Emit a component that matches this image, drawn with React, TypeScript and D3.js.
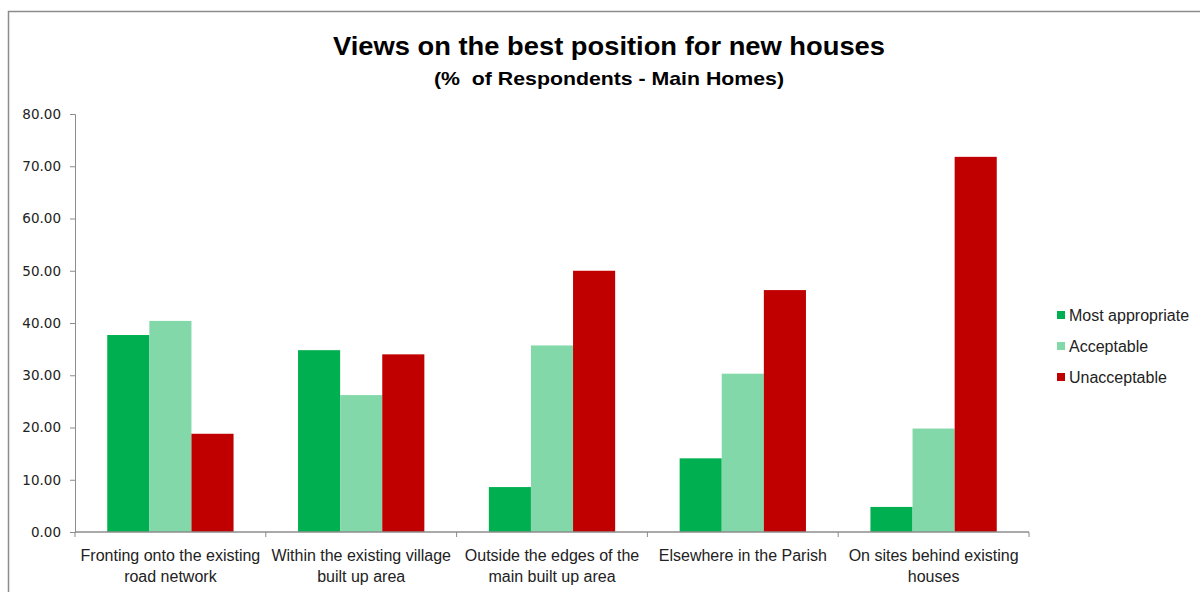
import React, { useEffect, useRef } from 'react'
import * as d3 from 'd3'

const categories = [
  ['Fronting onto the existing', 'road network'],
  ['Within the existing village', 'built up area'],
  ['Outside the edges of the', 'main built up area'],
  ['Elsewhere in the Parish'],
  ['On sites behind existing', 'houses'],
]
const seriesNames = ['Most appropriate', 'Acceptable', 'Unacceptable']
const mostAppropriate = [37.7, 34.8, 8.6, 14.1, 4.8]
const acceptable = [40.4, 26.2, 35.7, 30.3, 19.8]
const unacceptable = [18.8, 34.0, 50.0, 46.3, 71.8]
const yTicks = [0, 10, 20, 30, 40, 50, 60, 70, 80]

const COLORS = ['#00b050', '#82d8a8', '#c00000']
const AXIS_COLOR = '#8c8c8c'
const TEXT_COLOR = '#222'

const W = 1200
const H = 592

export default function App() {
  const svgRef = useRef<SVGSVGElement>(null)

  useEffect(() => {
    if (!svgRef.current) return
    const svg = d3.select(svgRef.current)
    svg.selectAll('*').remove()

    const values = [mostAppropriate, acceptable, unacceptable]
    const margin = { top: 114, left: 75, right: 171, bottom: 60 }
    const catKeys = categories.map(c => c.join(' '))

    const x = d3.scaleBand().domain(catKeys).range([margin.left, W - margin.right]).padding(0)
    const bw = x.bandwidth()
    const xInner = d3.scaleBand().domain(seriesNames).range([bw * 0.169, bw * 0.831]).padding(0)
    const y = d3.scaleLinear().domain([0, 80]).range([H - margin.bottom, margin.top])

    // chart frame
    svg.append('path')
      .attr('d', `M8.5,${H + 2}V11.5H${W + 2}`)
      .attr('fill', 'none').attr('stroke', AXIS_COLOR).attr('stroke-width', 1.5)

    // titles
    svg.append('text')
      .attr('x', 609).attr('y', 55)
      .attr('text-anchor', 'middle')
      .attr('font-family', 'Liberation Sans, Arial, sans-serif')
      .attr('font-weight', 'bold').attr('font-size', 26)
      .attr('textLength', 552).attr('lengthAdjust', 'spacingAndGlyphs')
      .attr('fill', '#000')
      .text('Views on the best position for new houses')
    svg.append('text')
      .attr('x', 609).attr('y', 85)
      .attr('text-anchor', 'middle')
      .attr('font-family', 'Liberation Sans, Arial, sans-serif')
      .attr('font-weight', 'bold').attr('font-size', 19)
      .attr('textLength', 350).attr('lengthAdjust', 'spacingAndGlyphs')
      .attr('fill', '#000')
      .text('(%\u00a0 of Respondents - Main Homes)')

    // bars
    const g = svg.append('g')
    catKeys.forEach((cat, ci) => {
      seriesNames.forEach((s, si) => {
        const v = values[si][ci]
        g.append('rect')
          .attr('x', (x(cat) || 0) + (xInner(s) || 0))
          .attr('y', y(v))
          .attr('width', xInner.bandwidth())
          .attr('height', y(0) - y(v))
          .attr('fill', COLORS[si])
      })
    })

    // y axis
    const yAxis = svg.append('g')
      .attr('transform', `translate(${margin.left},0)`)
      .call(d3.axisLeft(y).tickValues(yTicks).tickSize(5).tickPadding(9).tickFormat(d => (+d).toFixed(2)))
    yAxis.selectAll('text')
      .attr('font-family', 'DejaVu Sans, Verdana, sans-serif').attr('font-size', 13.5).attr('fill', TEXT_COLOR)
    yAxis.selectAll('.domain,.tick line').attr('stroke', AXIS_COLOR)

    // x axis
    const xAxisG = svg.append('g').attr('transform', `translate(0,${y(0)})`)
    xAxisG.append('line')
      .attr('x1', margin.left).attr('x2', W - margin.right)
      .attr('stroke', AXIS_COLOR).attr('stroke-width', 1.5)
    const boundaries = catKeys.map(c => x(c) || 0).concat([(x(catKeys[catKeys.length - 1]) || 0) + bw])
    xAxisG.selectAll('.xtick').data(boundaries).join('line')
      .attr('x1', d => d).attr('x2', d => d).attr('y1', 0).attr('y2', 5)
      .attr('stroke', AXIS_COLOR)

    categories.forEach((lines, ci) => {
      const cx = (x(catKeys[ci]) || 0) + bw / 2
      const t = svg.append('text')
        .attr('text-anchor', 'middle')
        .attr('font-family', 'Liberation Sans, Arial, sans-serif')
        .attr('font-size', 16).attr('fill', TEXT_COLOR)
      lines.forEach((ln, li) => {
        t.append('tspan').attr('x', cx).attr('y', y(0) + 29 + li * 21).text(ln)
      })
    })

    // legend
    const lg = svg.append('g').attr('transform', 'translate(1057,316)')
    seriesNames.forEach((s, i) => {
      lg.append('rect').attr('x', 0).attr('y', i * 31 - 5).attr('width', 8).attr('height', 8).attr('fill', COLORS[i])
      lg.append('text').attr('x', 12).attr('y', i * 31 + 5)
        .attr('font-family', 'Liberation Sans, Arial, sans-serif')
        .attr('font-size', 16).attr('fill', TEXT_COLOR)
        .text(s)
    })
  }, [])

  return (
    <div style={{ position: 'absolute', left: 0, top: 0, width: W, height: H, background: '#fff' }}>
      <svg ref={svgRef} width={W} height={H} style={{ display: 'block' }} />
    </div>
  )
}
